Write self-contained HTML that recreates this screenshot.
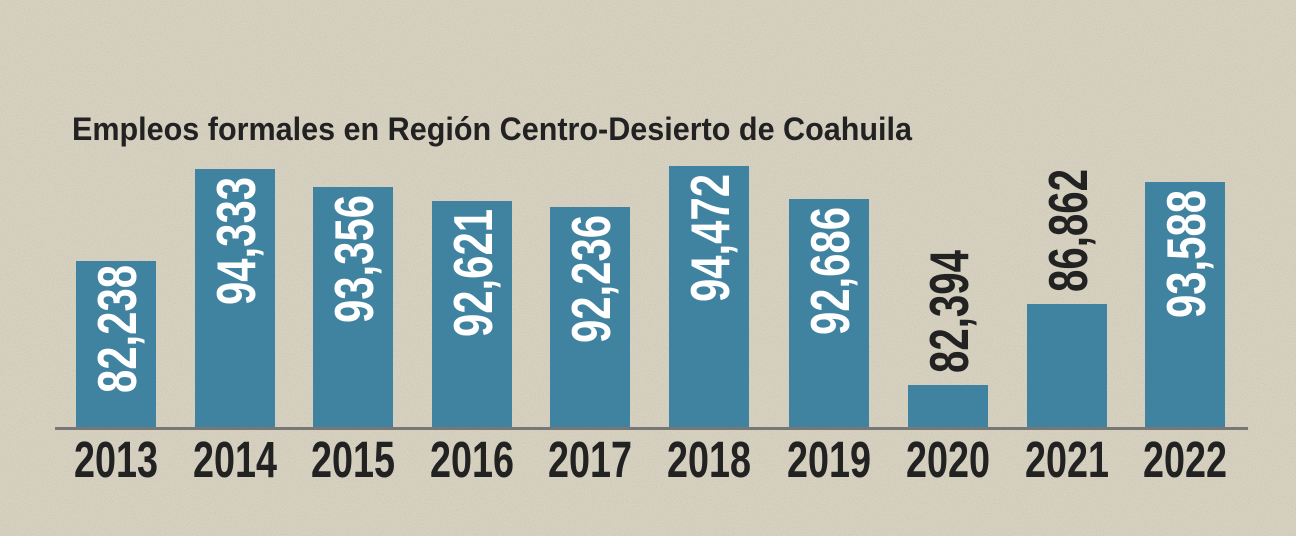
<!DOCTYPE html>
<html><head><meta charset="utf-8"><style>
html,body{margin:0;padding:0;background:#d7d1c0}
svg{display:block}
text{font-family:"Liberation Sans",sans-serif;font-weight:bold}
</style></head><body>
<svg width="1296" height="536" viewBox="0 0 1296 536" xmlns="http://www.w3.org/2000/svg">
<defs>
<filter id="n" x="0" y="0" width="100%" height="100%">
<feTurbulence type="fractalNoise" baseFrequency="0.9" numOctaves="2" seed="3"/>
<feColorMatrix type="matrix" values="0 0 0 0 0.45  0 0 0 0 0.42  0 0 0 0 0.36  0 0 0 1.2 -0.45"/>
</filter>
</defs>
<rect width="1296" height="536" fill="#d8d2c1"/>
<rect width="1296" height="536" filter="url(#n)" opacity="0.6"/>
<text x="72" y="140" font-size="32" fill="#222" textLength="840" lengthAdjust="spacingAndGlyphs">Empleos formales en Región Centro-Desierto de Coahuila</text>
<g fill="#3f83a0">
<rect x="76" y="261" width="80" height="167"/>
<rect x="195" y="169" width="80" height="259"/>
<rect x="313" y="187" width="80" height="241"/>
<rect x="432" y="201" width="80" height="227"/>
<rect x="550" y="207" width="80" height="221"/>
<rect x="669" y="166" width="80" height="262"/>
<rect x="789" y="199" width="80" height="229"/>
<rect x="908" y="385" width="80" height="43"/>
<rect x="1027" y="304" width="80" height="124"/>
<rect x="1145" y="182" width="80" height="246"/>
</g>
<rect x="55" y="427" width="1193" height="3" fill="#777"/>
<g font-size="55" fill="#fff" text-anchor="end">
<text transform="translate(116,265) rotate(-90)" x="0" y="20" textLength="128" lengthAdjust="spacingAndGlyphs">82,238</text>
<text transform="translate(235,177) rotate(-90)" x="0" y="20" textLength="128" lengthAdjust="spacingAndGlyphs">94,333</text>
<text transform="translate(353,195) rotate(-90)" x="0" y="20" textLength="128" lengthAdjust="spacingAndGlyphs">93,356</text>
<text transform="translate(472,209) rotate(-90)" x="0" y="20" textLength="128" lengthAdjust="spacingAndGlyphs">92,621</text>
<text transform="translate(590,215) rotate(-90)" x="0" y="20" textLength="128" lengthAdjust="spacingAndGlyphs">92,236</text>
<text transform="translate(709,174) rotate(-90)" x="0" y="20" textLength="128" lengthAdjust="spacingAndGlyphs">94,472</text>
<text transform="translate(829,207) rotate(-90)" x="0" y="20" textLength="128" lengthAdjust="spacingAndGlyphs">92,686</text>
<text transform="translate(1185,190) rotate(-90)" x="0" y="20" textLength="128" lengthAdjust="spacingAndGlyphs">93,588</text>
</g>
<g font-size="55" fill="#222" text-anchor="start">
<text transform="translate(948,373) rotate(-90)" x="0" y="20" textLength="123" lengthAdjust="spacingAndGlyphs">82,394</text>
<text transform="translate(1067,292) rotate(-90)" x="0" y="20" textLength="123" lengthAdjust="spacingAndGlyphs">86,862</text>
</g>
<g font-size="51" fill="#222" text-anchor="middle">
<text x="116" y="477" textLength="84" lengthAdjust="spacingAndGlyphs">2013</text>
<text x="235" y="477" textLength="84" lengthAdjust="spacingAndGlyphs">2014</text>
<text x="353" y="477" textLength="84" lengthAdjust="spacingAndGlyphs">2015</text>
<text x="472" y="477" textLength="84" lengthAdjust="spacingAndGlyphs">2016</text>
<text x="590" y="477" textLength="84" lengthAdjust="spacingAndGlyphs">2017</text>
<text x="709" y="477" textLength="84" lengthAdjust="spacingAndGlyphs">2018</text>
<text x="829" y="477" textLength="84" lengthAdjust="spacingAndGlyphs">2019</text>
<text x="948" y="477" textLength="84" lengthAdjust="spacingAndGlyphs">2020</text>
<text x="1067" y="477" textLength="84" lengthAdjust="spacingAndGlyphs">2021</text>
<text x="1185" y="477" textLength="84" lengthAdjust="spacingAndGlyphs">2022</text>
</g>
</svg>
</body></html>
